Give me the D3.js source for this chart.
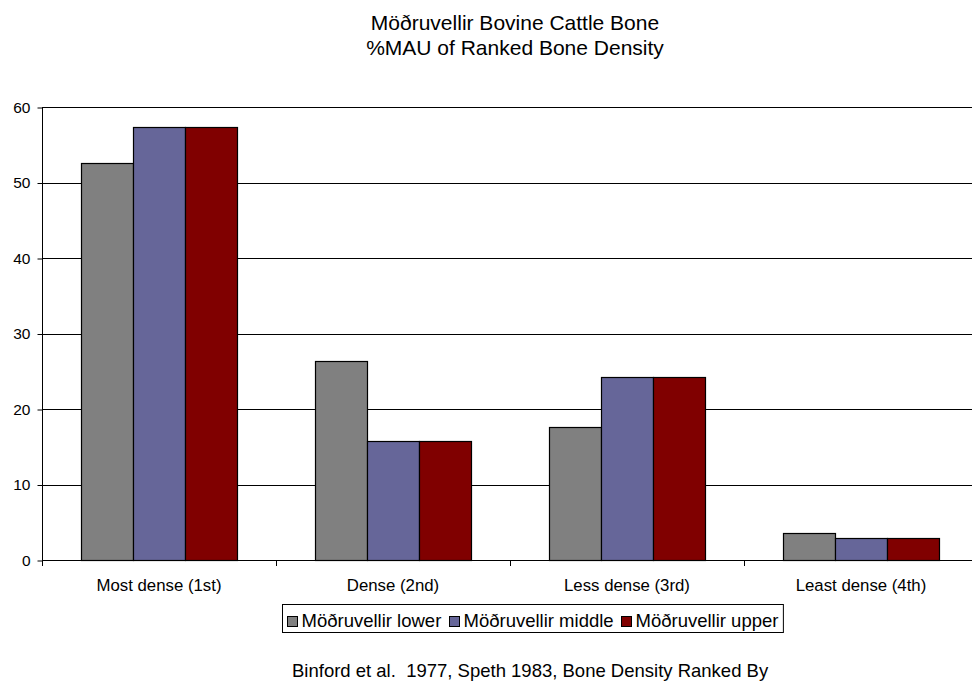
<!DOCTYPE html>
<html>
<head>
<meta charset="utf-8">
<script src="https://cdn.jsdelivr.net/npm/d3@7"></script>
<style>
  html, body { margin: 0; padding: 0; background: #fff; }
  svg { display: block; font-family: "Liberation Sans", Arial, sans-serif; }
</style>
</head>
<body>
<svg id="chart" width="972" height="683"></svg>
<script>
// Density ranks on the category axis
const categories = ["Most dense (1st)", "Dense (2nd)", "Less dense (3rd)", "Least dense (4th)"];
// Assemblage series
const seriesNames = ["Möðruvellir lower", "Möðruvellir middle", "Möðruvellir upper"];
const seriesColors = ["#808080", "#666699", "#800000"];
// %MAU per density rank for each assemblage
const lowerValues = [52.6, 26.3, 17.6, 3.6];
const middleValues = [57.3, 15.7, 24.2, 2.9];
const upperValues = [57.3, 15.7, 24.2, 2.9];
const yTicks = [0, 10, 20, 30, 40, 50, 60];
const titleLines = ["Möðruvellir Bovine Cattle Bone", "%MAU of Ranked Bone Density"];
const footerText = "Binford et al.\u00a0 1977, Speth 1983, Bone Density Ranked By";

const seriesValues = [lowerValues, middleValues, upperValues];
const rows = categories.map((c, i) => ({
  category: c,
  values: seriesNames.map((s, j) => ({ series: s, idx: j, value: seriesValues[j][i] }))
}));

const svg = d3.select("#chart");
const plot = { left: 42, right: 978, top: 107, bottom: 560 };

const x0 = d3.scaleBand()
  .domain(categories)
  .range([plot.left, plot.right])
  .paddingInner(1 / 3)
  .paddingOuter(1 / 6);
const x1 = d3.scaleBand()
  .domain(seriesNames)
  .range([0, x0.bandwidth()]);
const y = d3.scaleLinear().domain([0, 60]).range([plot.bottom, plot.top]);

// Title
svg.append("g").selectAll("text")
  .data(titleLines)
  .join("text")
  .attr("x", 515)
  .attr("y", (d, i) => 30 + i * 25)
  .attr("text-anchor", "middle")
  .attr("font-size", 21)
  .attr("fill", "#000")
  .text(d => d);

// Horizontal gridlines
svg.append("g")
  .selectAll("line")
  .data(yTicks.filter(t => t > 0))
  .join("line")
  .attr("x1", plot.left)
  .attr("x2", plot.right)
  .attr("y1", d => Math.round(y(d)) + 0.5)
  .attr("y2", d => Math.round(y(d)) + 0.5)
  .attr("stroke", "#000")
  .attr("stroke-width", 1);

// Bars
const groups = svg.append("g")
  .selectAll("g")
  .data(rows)
  .join("g")
  .attr("transform", d => `translate(${x0(d.category)},0)`);
groups.selectAll("rect")
  .data(d => d.values)
  .join("rect")
  .attr("x", d => x1(d.series) + 0.5)
  .attr("y", d => Math.round(y(d.value)) + 0.5)
  .attr("width", x1.bandwidth())
  .attr("height", d => Math.round(y(0)) - Math.round(y(d.value)))
  .attr("fill", d => seriesColors[d.idx])
  .attr("stroke", "#000")
  .attr("stroke-width", 1.2);

// Y axis
const yAxis = d3.axisLeft(y)
  .tickValues(yTicks)
  .tickSize(5)
  .tickPadding(7)
  .tickFormat(d3.format("d"));
const gy = svg.append("g")
  .attr("transform", `translate(${plot.left + 0.5},0.5)`)
  .call(yAxis);
gy.select(".domain").attr("stroke", "#000").attr("d", `M0,${plot.top}V${plot.bottom + 5}`);
gy.selectAll(".tick line").attr("stroke", "#000");
gy.selectAll(".tick text")
  .attr("font-size", 15.5)
  .attr("font-family", "Liberation Sans, Arial, sans-serif")
  .attr("fill", "#000");

// X axis: ticks at category boundaries, labels centred in each band
const step = x0.step();
const boundaries = d3.range(categories.length + 1).map(i => plot.left + i * step);
const gx = svg.append("g");
gx.append("line")
  .attr("x1", plot.left)
  .attr("x2", plot.right)
  .attr("y1", Math.round(y(0)) + 0.5)
  .attr("y2", Math.round(y(0)) + 0.5)
  .attr("stroke", "#000");
gx.selectAll("line.tk")
  .data(boundaries)
  .join("line")
  .attr("class", "tk")
  .attr("x1", d => Math.round(d) + 0.5)
  .attr("x2", d => Math.round(d) + 0.5)
  .attr("y1", Math.round(y(0)))
  .attr("y2", Math.round(y(0)) + 6)
  .attr("stroke", "#000");
gx.selectAll("text")
  .data(categories)
  .join("text")
  .attr("x", d => x0(d) + x0.bandwidth() / 2)
  .attr("y", 591)
  .attr("text-anchor", "middle")
  .attr("font-size", 16.8)
  .attr("fill", "#000")
  .text(d => d);

// Legend
const legend = svg.append("g");
const legendFont = 18.5;
const sw = 10;
const items = legend.selectAll("g.item")
  .data(seriesNames)
  .join("g")
  .attr("class", "item");
items.append("rect")
  .attr("width", sw)
  .attr("height", sw)
  .attr("fill", (d, i) => seriesColors[i])
  .attr("stroke", "#000")
  .attr("stroke-width", 1);
items.append("text")
  .attr("x", sw + 4)
  .attr("y", sw)
  .attr("font-size", legendFont)
  .attr("fill", "#000")
  .text(d => d);
let widths = [];
items.each(function () {
  widths.push(d3.select(this).select("text").node().getComputedTextLength() + sw + 4);
});
const itemGap = 8;
const padL = 5, padR = 5;
const totalW = padL + d3.sum(widths) + itemGap * (widths.length - 1) + padR;
const legendCx = 532;
const lx = Math.round(legendCx - totalW / 2);
const ly = 604;
legend.insert("rect", ":first-child")
  .attr("x", lx + 0.5)
  .attr("y", ly + 0.5)
  .attr("width", totalW)
  .attr("height", 28)
  .attr("fill", "#fff")
  .attr("stroke", "#000")
  .attr("stroke-width", 1);
let cx = lx + padL;
items.attr("transform", (d, i) => {
  const t = `translate(${Math.round(cx) + 0.5},${ly + 12.5})`;
  cx += widths[i] + itemGap;
  return t;
});
items.select("text").attr("y", 10.5);

// Source note
svg.append("text")
  .attr("x", 292)
  .attr("y", 677)
  .attr("text-anchor", "start")
  .attr("font-size", 18.5)
  .attr("fill", "#000")
  .text(footerText);
</script>
</body>
</html>
